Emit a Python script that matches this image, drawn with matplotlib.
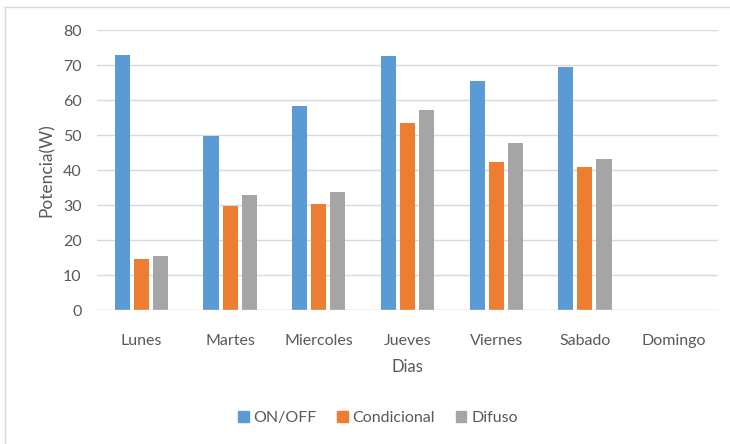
import matplotlib.pyplot as plt
import numpy as np
from matplotlib.lines import Line2D

dias = ["Lunes", "Martes", "Miercoles", "Jueves", "Viernes", "Sabado", "Domingo"]
on_off = [73, 49.8, 58.4, 72.7, 65.6, 69.6, 0]
condicional = [14.6, 29.9, 30.4, 53.6, 42.5, 41.0, 0]
difuso = [15.5, 32.9, 33.7, 57.2, 47.7, 43.1, 0]

series = [("ON/OFF", on_off, "#5B9BD5"),
          ("Condicional", condicional, "#ED7D31"),
          ("Difuso", difuso, "#A5A5A5")]

plt.rcParams['font.family'] = ['Lato', 'DejaVu Sans']
text_color = "#595959"

fig = plt.figure(figsize=(7.3, 4.44), dpi=100)
ax = fig.add_axes([97 / 730, 1 - 310.3 / 444, 621 / 730, 280 / 444])

x = np.arange(len(dias))
width = 0.17
step = 0.215
for i, (name, vals, color) in enumerate(series):
    ax.bar(x + (i - 1) * step, vals, width, color=color, label=name, zorder=3)

ax.set_xlim(-0.5, len(dias) - 0.5)
ax.set_ylim(0, 80)
ax.set_yticks(range(0, 81, 10))
ax.set_xticks(x)
ax.set_xticklabels(dias)
ax.yaxis.grid(True, color="#D9D9D9", linewidth=1, zorder=0)
ax.tick_params(length=0, labelsize=11.5, colors=text_color)
ax.tick_params(axis='y', pad=11)
ax.tick_params(axis='x', pad=17)
for s in ax.spines.values():
    s.set_visible(False)
ax.axhline(0, color="#D9D9D9", linewidth=1, zorder=4)

ax.set_ylabel("Potencia(W)", fontsize=12.5, color=text_color, labelpad=6)
ax.set_xlabel("Dias", fontsize=12, color=text_color, labelpad=8)

fig.legend(handles=[plt.Rectangle((0, 0), 1, 1, color=c) for _, _, c in series],
           labels=[n for n, _, _ in series],
           loc="center", bbox_to_anchor=(378 / 730, 1 - 418 / 444),
           ncol=3, frameon=False, fontsize=11.5, labelcolor=text_color,
           handlelength=0.65, handleheight=0.65, handletextpad=0.3, columnspacing=1.3)

# outer chart frame (left and top edges)
fig.add_artist(Line2D([5 / 730, 5 / 730], [0, 1 - 7 / 444], transform=fig.transFigure,
                      color="#D9D9D9", linewidth=1))
fig.add_artist(Line2D([5 / 730, 1], [1 - 7 / 444, 1 - 7 / 444], transform=fig.transFigure,
                      color="#D9D9D9", linewidth=1))

fig.savefig("out.png", dpi=100)
